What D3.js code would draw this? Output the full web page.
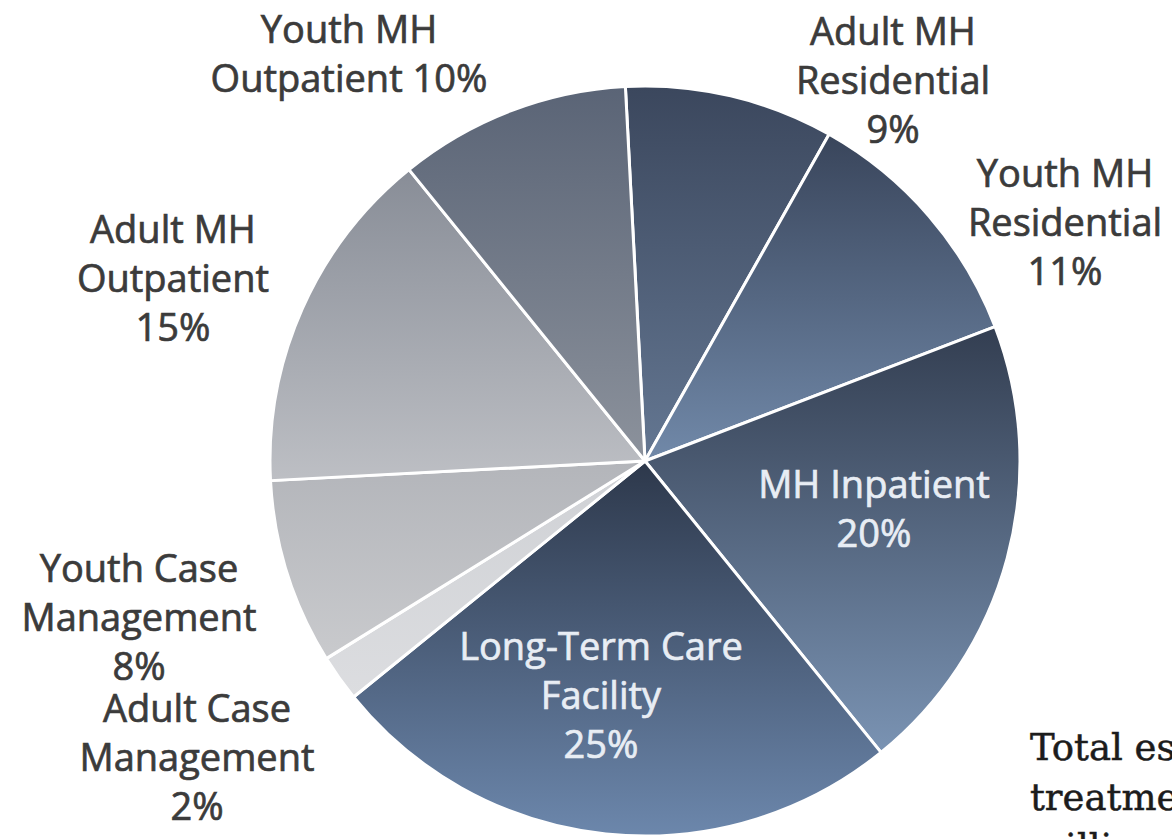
<!DOCTYPE html>
<html>
<head>
<meta charset="utf-8">
<script src="https://cdn.jsdelivr.net/npm/d3@7"></script>
<style>
    body { margin: 0; background: #fff; }
    .label { font-family: "Open Sans", sans-serif; font-size: 38px; stroke-width: 0.7px; }
    .note { font-family: "DejaVu Serif", serif; font-size: 37px; fill: #1c1c1c; stroke: #1c1c1c; stroke-width: 0.5px; }
</style>
</head>
<body>
<div id="chart"></div>
<script>
// data, clockwise from just left of 12 o'clock
const categories = ["Adult MH Residential", "Youth MH Residential", "MH Inpatient", "Long-Term Care Facility",
    "Adult Case Management", "Youth Case Management", "Adult MH Outpatient", "Youth MH Outpatient"];
const shares = [9, 11, 20, 25, 2, 8, 15, 10];
const labelLines = [
    ["Adult MH", "Residential", "9%"],
    ["Youth MH", "Residential", "11%"],
    ["MH Inpatient", "20%"],
    ["Long-Term Care", "Facility", "25%"],
    ["Adult Case", "Management", "2%"],
    ["Youth Case", "Management", "8%"],
    ["Adult MH", "Outpatient", "15%"],
    ["Youth MH", "Outpatient 10%"]
];
const noteLines = ["Total estimated", "treatment", "million"];

// styles: top / bottom gradient colours per slice
const topColors = ["#3b475d", "#39455b", "#333e51", "#2d384b", "#cfd1d5", "#b3b5ba", "#888d97", "#5a6476"];
const bottomColors = ["#647792", "#7189a9", "#7a93b3", "#6c87ac", "#dcdde0", "#c9cacd", "#bdbfc4", "#8c929c"];
const insideLabel = [false, false, true, true, false, false, false, false];

// layout: first-line anchor of each label (text centre, baseline)
const labelAnchors = [[893, 45], [1065, 187], [874, 498], [601, 660], [197, 722], [139, 582], [173, 243], [349, 43]];
const lineHeight = 49;

const svgWidth = 1172,
    svgHeight = 839,
    cx = 645,
    cy = 461,
    radius = 375;

let svg = d3.select("#chart").append("svg")
    .attr("width", svgWidth)
    .attr("height", svgHeight);

let defs = svg.append("defs");
categories.forEach((c, i) => {
    let grad = defs.append("linearGradient")
        .attr("id", "grad" + i)
        .attr("x1", 0).attr("y1", 0)
        .attr("x2", 0).attr("y2", 1);
    grad.append("stop").attr("offset", "0%").attr("stop-color", topColors[i]);
    grad.append("stop").attr("offset", "100%").attr("stop-color", bottomColors[i]);
});

let pie = d3.pie()
    .sort(null)
    .startAngle(-3 * Math.PI / 180)
    .endAngle(2 * Math.PI - 3 * Math.PI / 180)
    .value((d) => d);

let arc = d3.arc()
    .innerRadius(0)
    .outerRadius(radius);

let pieGroup = svg.append("g")
    .attr("transform", `translate(${cx}, ${cy})`);

pieGroup.selectAll("path")
    .data(pie(shares))
    .join("path")
    .attr("d", arc)
    .attr("fill", (d, i) => `url(#grad${i})`)
    .attr("stroke", "#ffffff")
    .attr("stroke-width", 3)
    .attr("stroke-linejoin", "round");

// labels
let labels = svg.append("g")
    .selectAll("text")
    .data(labelLines)
    .join("text")
    .attr("class", "label")
    .attr("text-anchor", "middle")
    .attr("fill", (d, i) => insideLabel[i] ? "#e8edf4" : "#3b3b3b")
    .attr("stroke", (d, i) => insideLabel[i] ? "#e8edf4" : "#3b3b3b");

labels.each(function (lines, i) {
    d3.select(this).selectAll("tspan")
        .data(lines)
        .join("tspan")
        .attr("x", labelAnchors[i][0])
        .attr("y", (l, j) => labelAnchors[i][1] + j * lineHeight)
        .text((l) => l);
});

// cropped side text
svg.append("text")
    .attr("class", "note")
    .selectAll("tspan")
    .data(noteLines)
    .join("tspan")
    .attr("x", 1030)
    .attr("y", (d, i) => 760 + i * 50)
    .text((d) => d);
</script>
</body>
</html>
